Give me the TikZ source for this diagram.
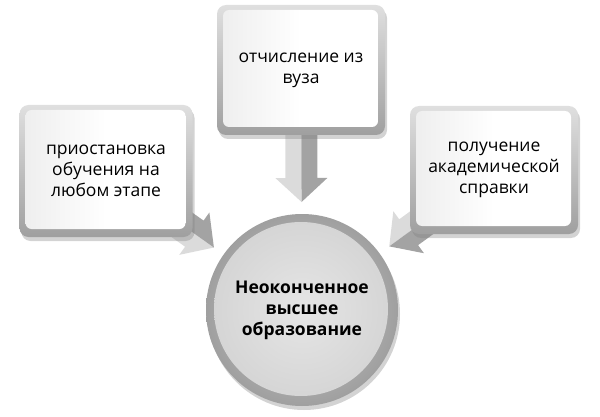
\documentclass[tikz,border=0pt]{standalone}
\usepackage{fontspec}
\setmainfont{Open Sans}
\usetikzlibrary{calc,shadows}
\pgfdeclarelayer{bg}
\pgfsetlayers{bg,main}
\tikzset{
  infobox/.style={minimum width=168pt, minimum height=130pt, rounded corners=9pt,
    top color=gray!25, bottom color=gray!75, align=center,
    font=\fontsize{17.5pt}{21pt}\selectfont, text=black,
    drop shadow={shadow xshift=2pt, shadow yshift=-4pt, opacity=0.35},
    path picture={\shade[left color=gray!14, right color=white, middle color=white, rounded corners=6pt]
      ([shift={(6pt,-5pt)}]path picture bounding box.north west) rectangle
      ([shift={(-7pt,8pt)}]path picture bounding box.south east);}},
  hub/.style={circle, minimum size=192pt, inner color=gray!40, outer color=gray!75,
    align=center, font=\bfseries\fontsize{17.5pt}{21pt}\selectfont, text=black,
    drop shadow={shadow xshift=2pt, shadow yshift=-4pt, opacity=0.35},
    path picture={\shade[inner color=gray!20, outer color=gray!34]
      ([shift={(-1pt,1pt)}]path picture bounding box.center) circle (87pt);}},
  arrlight/.style={fill=gray!28},
  arrdark/.style={fill=gray!72}
}
\newcommand\blockarrow[2]{%
  \coordinate (S) at (#1.center);
  \coordinate (T) at ($(#2.center)!108pt!(#1.center)$);
  \coordinate (H) at ($(T)!24pt!(S)$);
  \fill[arrlight] (S) -- ($(S)!16pt!-90:(T)$) -- ($(H)!16pt!-90:(T)$) -- ($(H)!26pt!-90:(T)$) -- (T) -- (H) -- cycle;
  \fill[arrdark] (S) -- ($(S)!16pt!90:(T)$) -- ($(H)!16pt!90:(T)$) -- ($(H)!26pt!90:(T)$) -- (T) -- (H) -- cycle;
}
\begin{document}
\begin{tikzpicture}[x=1pt,y=-1pt]
\useasboundingbox (0,0) rectangle (600,417);
\node[infobox, minimum width=168pt, minimum height=130pt] (top) at (301,70) {отчисление из\\вуза};
\node[infobox, minimum width=173pt, minimum height=132pt] (left) at (106,171) {приостановка\\обучения на\\любом этапе};
\node[infobox, minimum width=168pt, minimum height=128pt] (right) at (494,170) {получение\\академической\\справки};
\node[hub] (hub) at (302,310) {Неоконченное\\высшее\\образование};
\begin{pgfonlayer}{bg}
\blockarrow{top}{hub}
\blockarrow{left}{hub}
\blockarrow{right}{hub}
\end{pgfonlayer}
\end{tikzpicture}
\end{document}
